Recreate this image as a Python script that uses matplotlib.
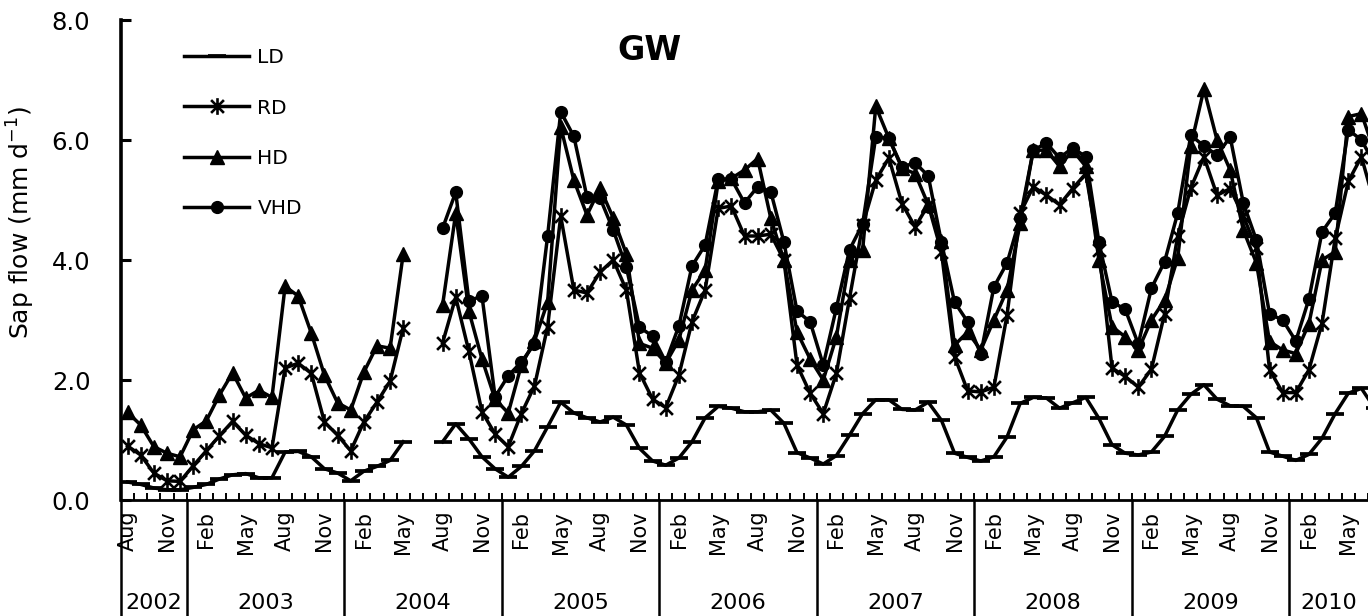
import numpy as np
import matplotlib
matplotlib.use("Agg")
import matplotlib.pyplot as plt
import matplotlib.transforms as mtransforms
from matplotlib.path import Path
from matplotlib.ticker import FormatStrFormatter

plt.rcParams["font.family"] = ["DejaVu Sans"]

nan = np.nan

# monthly series, Aug 2002 .. Jul 2010 (last month is cut off by the frame)
MONTH_NAMES = ["Jan", "Feb", "Mar", "Apr", "May", "Jun",
               "Jul", "Aug", "Sep", "Oct", "Nov", "Dec"]
FIRST_MONTH = 7  # Aug
YEARS = [2002, 2003, 2004, 2005, 2006, 2007, 2008, 2009, 2010]

LD = [0.30, 0.26, 0.20, 0.17, 0.17,
      0.21, 0.26, 0.35, 0.42, 0.44, 0.37, 0.37, 0.80, 0.81, 0.72, 0.52, 0.45,
      0.32, 0.48, 0.56, 0.66, 0.97, nan, nan, 0.97, 1.27, 1.02, 0.72, 0.52,
      0.38, 0.56, 0.82, 1.22, 1.63, 1.45, 1.37, 1.30, 1.38, 1.25, 0.86, 0.65,
      0.58, 0.70, 0.97, 1.37, 1.56, 1.53, 1.47, 1.47, 1.50, 1.28, 0.79, 0.70,
      0.60, 0.74, 1.08, 1.44, 1.67, 1.67, 1.51, 1.50, 1.63, 1.33, 0.78, 0.71,
      0.65, 0.72, 1.05, 1.61, 1.71, 1.70, 1.53, 1.62, 1.71, 1.36, 0.92, 0.78,
      0.75, 0.80, 1.06, 1.50, 1.76, 1.92, 1.68, 1.57, 1.56, 1.37, 0.80, 0.73,
      0.66, 0.76, 1.03, 1.44, 1.78, 1.86, 1.53]

RD = [0.90, 0.75, 0.45, 0.32, 0.31,
      0.57, 0.82, 1.07, 1.31, 1.08, 0.94, 0.87, 2.20, 2.28, 2.11, 1.30, 1.08,
      0.82, 1.30, 1.63, 1.98, 2.87, nan, nan, 2.62, 3.38, 2.48, 1.47, 1.10,
      0.89, 1.44, 1.90, 2.89, 4.73, 3.50, 3.45, 3.80, 4.00, 3.50, 2.12, 1.68,
      1.54, 2.08, 2.97, 3.50, 4.86, 4.90, 4.40, 4.40, 4.43, 4.00, 2.25, 1.78,
      1.44, 2.11, 3.36, 4.58, 5.33, 5.70, 4.94, 4.55, 4.92, 4.14, 2.39, 1.82,
      1.80, 1.88, 3.08, 4.78, 5.22, 5.08, 4.92, 5.19, 5.44, 4.17, 2.20, 2.06,
      1.88, 2.18, 3.10, 4.40, 5.20, 5.72, 5.08, 5.19, 4.73, 4.20, 2.17, 1.79,
      1.79, 2.17, 2.95, 4.36, 5.31, 5.72, 4.94]

HD = [1.46, 1.25, 0.89, 0.78, 0.72,
      1.17, 1.32, 1.75, 2.12, 1.70, 1.83, 1.71, 3.56, 3.40, 2.78, 2.08, 1.62,
      1.50, 2.13, 2.57, 2.53, 4.10, nan, nan, 3.25, 4.78, 3.15, 2.35, 1.68,
      1.45, 2.25, 2.65, 3.30, 6.22, 5.33, 4.75, 5.20, 4.70, 4.10, 2.61, 2.53,
      2.28, 2.67, 3.50, 3.83, 5.31, 5.36, 5.50, 5.69, 4.70, 4.00, 2.80, 2.35,
      2.00, 2.72, 4.00, 4.17, 6.56, 6.03, 5.53, 5.44, 4.92, 4.31, 2.58, 2.80,
      2.50, 3.00, 3.50, 4.61, 5.83, 5.83, 5.56, 5.83, 5.56, 4.00, 2.89, 2.72,
      2.50, 3.00, 3.33, 4.03, 5.90, 6.85, 6.00, 5.50, 4.50, 3.95, 2.64, 2.50,
      2.44, 2.94, 4.00, 4.14, 6.39, 6.44, 5.80]

VHD = [nan, nan, nan, nan, nan,
       nan, nan, nan, nan, nan, nan, nan, nan, nan, nan, nan, nan,
       nan, nan, nan, nan, nan, nan, nan, 4.53, 5.13, 3.32, 3.40, 1.72,
       2.07, 2.30, 2.60, 4.40, 6.47, 6.06, 5.05, 5.03, 4.50, 3.88, 2.88, 2.73,
       2.30, 2.90, 3.90, 4.25, 5.35, 5.35, 4.95, 5.22, 5.14, 4.30, 3.15, 2.97,
       2.25, 3.20, 4.17, 4.60, 6.05, 6.03, 5.55, 5.62, 5.40, 4.30, 3.30, 2.97,
       2.43, 3.55, 3.95, 4.70, 5.83, 5.95, 5.70, 5.87, 5.72, 4.30, 3.30, 3.18,
       2.60, 3.53, 3.97, 4.78, 6.08, 5.90, 5.75, 6.05, 4.95, 4.33, 3.10, 3.00,
       2.65, 3.35, 4.47, 4.78, 6.17, 6.00, 5.60]

N_SHOWN = 95  # Aug 2002 .. Jun 2010 inside the frame

# excel style "star": an x with a vertical bar
STAR = Path([(-1, -1), (1, 1), (-1, 1), (1, -1), (0, -1.3), (0, 1.3)],
            [Path.MOVETO, Path.LINETO] * 3)


def main() -> None:
    fig = plt.figure(figsize=(13.68, 6.16), dpi=100)
    ax = fig.add_axes([121 / 1368, 1 - 500 / 616, 1 - 121 / 1368, 480 / 616])

    x = np.arange(len(LD))
    lw = 2.5
    ax.plot(x, np.array(LD, float), color="black", lw=lw, marker="_", ms=13, mew=2.7, label="LD")
    ax.plot(x, np.array(RD, float), color="black", lw=lw, marker=STAR, ms=12, mew=1.9,
            mfc="none", label="RD")
    ax.plot(x, np.array(HD, float), color="black", lw=lw, marker="^", ms=10.5, label="HD")
    ax.plot(x, np.array(VHD, float), color="black", lw=lw, marker="o", ms=8.5, label="VHD")

    ax.set_xlim(-0.5, N_SHOWN - 0.5)
    ax.set_ylim(0, 8)

    for side in ["top", "right"]:
        ax.spines[side].set_visible(False)
    ax.spines["left"].set_linewidth(2.6)
    ax.spines["bottom"].set_linewidth(2.0)

    ax.set_yticks([0, 2, 4, 6, 8])
    ax.yaxis.set_major_formatter(FormatStrFormatter("%.1f"))
    ax.tick_params(axis="y", direction="in", length=7, width=2.2, labelsize=17.5, pad=22)
    ax.set_xticks(np.arange(-0.5, N_SHOWN, 1))
    ax.set_xticklabels([])
    ax.tick_params(axis="x", direction="in", length=5, width=1.4)

    trans = mtransforms.blended_transform_factory(ax.transData, ax.transAxes)

    # month labels every third month
    for i in range(0, N_SHOWN, 3):
        name = MONTH_NAMES[(FIRST_MONTH + i) % 12]
        ax.text(i, -0.022, name, transform=trans, rotation=90, ha="center", va="top",
                fontsize=15)

    # year boxes
    bounds = [-0.5]
    for k in range(1, len(YEARS)):
        bounds.append(12 * k - FIRST_MONTH - 0.5)
    bounds.append(N_SHOWN - 0.5)
    for b in bounds[:-1]:
        ax.plot([b, b], [0, -0.26], transform=trans, color="black", lw=1.8, clip_on=False)
    for year, lo, hi in zip(YEARS, bounds[:-1], bounds[1:]):
        ax.text((lo + hi) / 2, -0.215, str(year), transform=trans, ha="center", va="center",
                fontsize=16)

    ax.text(0.424, 0.9375, "GW", transform=ax.transAxes, ha="center", va="center",
            fontsize=24, fontweight="bold")

    ax.set_ylabel("Sap flow (mm d$^{-1}$)", fontsize=18)
    ax.yaxis.set_label_coords(-0.0675, 0.579)

    ax.legend(loc="upper left", bbox_to_anchor=(0.0505, 0.941), frameon=False, fontsize=14.5,
              handlelength=3.25, handletextpad=0.4, labelspacing=1.55, borderpad=0,
              borderaxespad=0, numpoints=1)

    fig.savefig("out.png", dpi=100)
    plt.close(fig)


if __name__ == "__main__":
    main()
